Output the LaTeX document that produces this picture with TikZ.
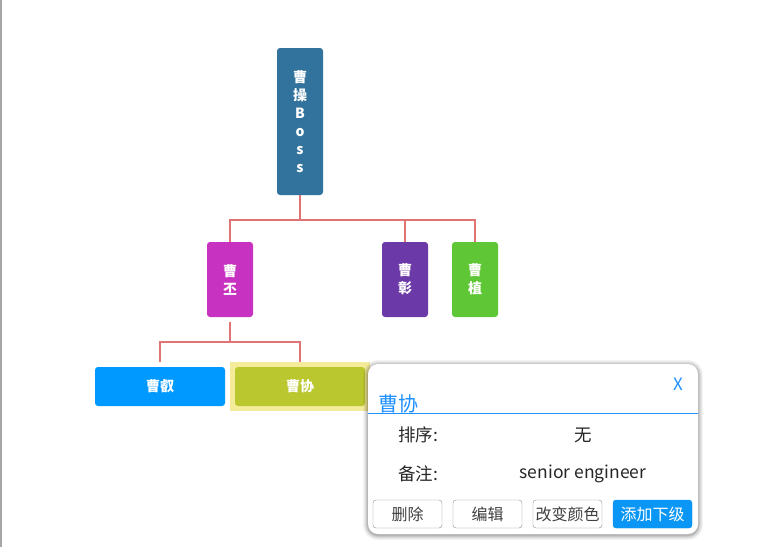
\documentclass[tikz,border=0pt]{standalone}
\usepackage{fontspec}
\setmainfont{Noto Sans CJK SC}
\definecolor{bossc}{HTML}{32739D}
\definecolor{cpc}{HTML}{C733C0}
\definecolor{czc}{HTML}{6C3AA8}
\definecolor{ccc}{HTML}{5FC735}
\definecolor{crc}{HTML}{0099FF}
\definecolor{cxc}{HTML}{BAC72F}
\definecolor{hlc}{HTML}{F5EC9B}
\definecolor{connc}{HTML}{E07474}
\definecolor{popblue}{HTML}{1E90FF}
\definecolor{btnblue}{HTML}{0A96F5}
\tikzset{
  orgnode/.style={rounded corners=3pt, inner sep=0pt, text=white, align=center,
    font=\bfseries\fontsize{14}{18}\selectfont},
  vnode/.style={orgnode, minimum width=46pt, minimum height=75pt},
  hnode/.style={orgnode, minimum width=130pt, minimum height=39pt},
  conn/.style={draw=connc, line width=1.5pt},
  btn/.style={draw=gray!90, rounded corners=3pt, minimum width=69pt, minimum height=28pt,
    inner sep=0pt, font=\fontsize{16}{16}\selectfont, text=black!75},
  poptext/.style={font=\fontsize{17.5}{17.5}\selectfont, text=black!85},
}
\begin{document}
\begin{tikzpicture}[x=1pt,y=-1pt]
\useasboundingbox (0,0) rectangle (771,547);
\draw[gray!70, line width=1.2pt] (1,0) -- (1,547);
% nodes
\node[orgnode, fill=bossc, minimum width=46pt, minimum height=147pt] (boss) at (300,121.5) {曹\\操\\B\\o\\s\\s};
\node[vnode, fill=cpc] (cp) at (230,279.5) {曹\\丕};
\node[vnode, fill=czc] (cz) at (405,279.5) {曹\\彰};
\node[vnode, fill=ccc] (cc) at (475,279.5) {曹\\植};
\fill[hlc] (230,362) rectangle (370,411);
\node[hnode, fill=crc] (cr) at (160,386.5) {曹叡};
\node[hnode, fill=cxc] (cx) at (300,386.5) {曹协};
% connectors
\coordinate (j1) at (300,220);
\coordinate (j2) at (230,342);
\draw[conn] (boss.south) -- (boss.south|-j1);
\draw[conn] (cp.north) -- (cp.north|-j1) -- (cc.north|-j1) -- (cc.north);
\draw[conn] (cz.north|-j1) -- (cz.north);
\draw[conn, shorten <=5pt] (cp.south) -- (j2);
\draw[conn, shorten >=5pt] (j2) -| (cr.north);
\draw[conn, shorten >=5pt] (j2) -| (cx.north);
% popup shadow
\foreach \s/\o in {5/0.04,4/0.05,3/0.06,2/0.08,1/0.10}{
  \fill[black, opacity=\o, rounded corners=10pt+\s pt] (368-\s,364-\s+1) rectangle (698+\s,534+\s+1);
}
\node[draw=none, fill=white, rounded corners=10pt, minimum width=330pt, minimum height=170pt, inner sep=0pt] (pop) at (533,449) {};
\node[text=popblue, font=\fontsize{17}{17}\selectfont] (px) at (678,384) {X};
\node[text=popblue, font=\fontsize{20}{20}\selectfont, anchor=west, inner sep=0pt] (ptitle) at (378,404) {曹协};
\coordinate (l1) at (368,413);
\coordinate (l2) at (698,413);
\draw[popblue, line width=1pt] (l1) -- (l2);
\node[poptext] (k1) at (418,435) {排序:};
\node[poptext] (v1) at (583,435) {无};
\node[poptext] (k2) at (418,474) {备注:};
\node[poptext] (v2) at (583,474) {senior engineer};
\node[btn] (b1) at (407.5,514) {删除};
\node[btn] (b2) at (487.5,514) {编辑};
\node[btn] (b3) at (567.5,514) {改变颜色};
\node[btn, draw=btnblue, fill=btnblue, text=white, minimum width=79pt] (b4) at (652.5,514) {添加下级};
\end{tikzpicture}
\end{document}
